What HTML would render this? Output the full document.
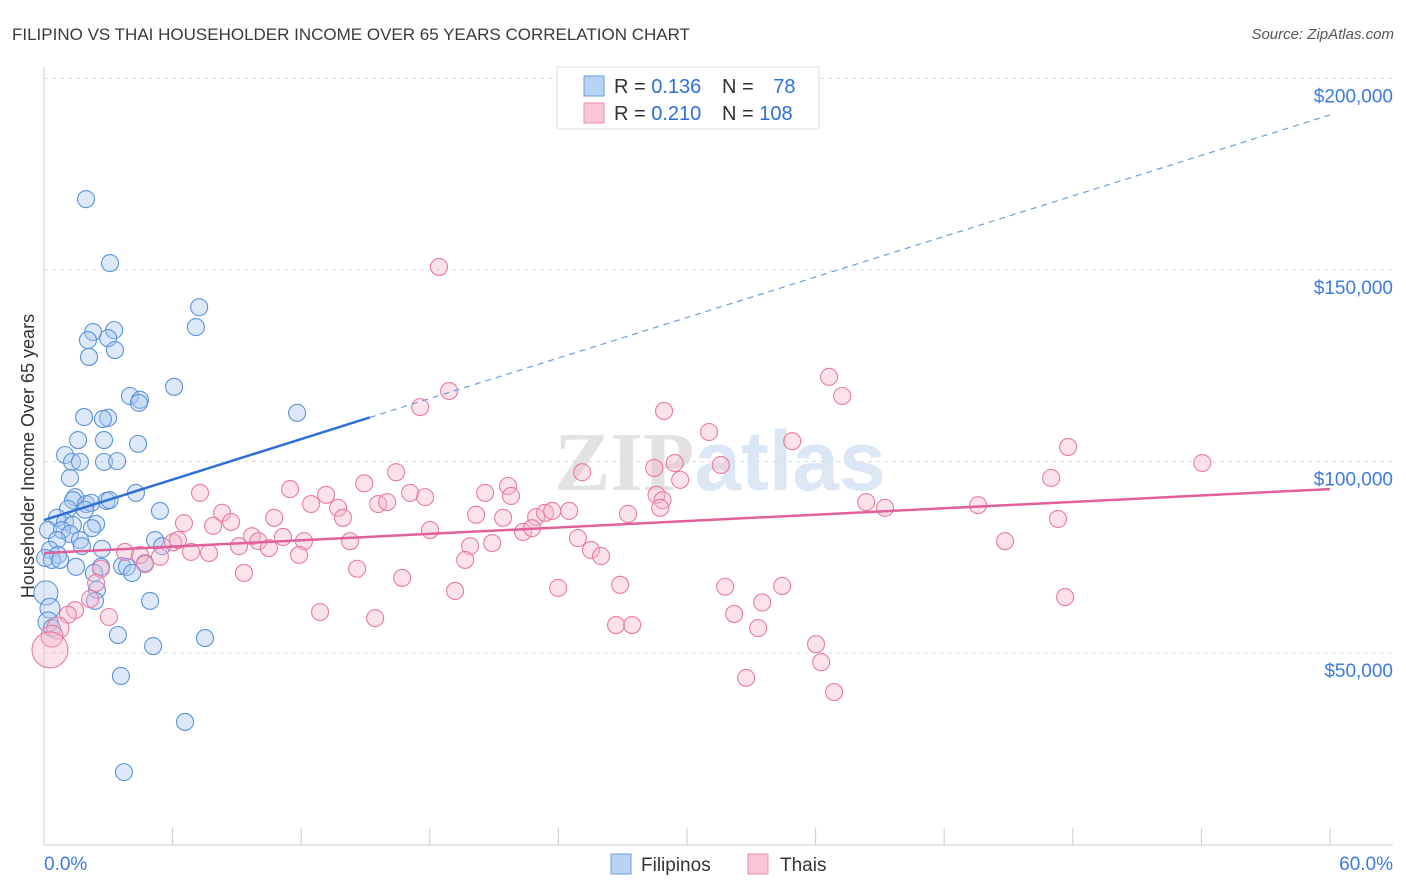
<!DOCTYPE html>
<html><head><meta charset="utf-8"><style>
body{margin:0;background:#fff;font-family:"Liberation Sans",sans-serif;}
#wrap{position:relative;width:1406px;height:892px;overflow:hidden;}
</style></head><body>
<div id="wrap">
<svg id="svg" width="1406" height="892">
<text x="12" y="40" font-size="17" fill="#3a3a3a">FILIPINO VS THAI HOUSEHOLDER INCOME OVER 65 YEARS CORRELATION CHART</text>
<text x="1394" y="39" font-size="15" fill="#555" text-anchor="end" font-style="italic">Source: ZipAtlas.com</text>
<text x="720" y="490" font-size="84" fill="#e4e4e4" text-anchor="middle" font-weight="bold"><tspan fill="#e2e2e2" font-family="Liberation Serif">ZIP</tspan><tspan fill="#dce7f5">atlas</tspan></text>
<text transform="translate(34,456) rotate(-90)" font-size="18" fill="#333" text-anchor="middle">Householder Income Over 65 years</text>
<g id="grid"></g><g id="pts"></g><g id="lines"></g>
<g>
<rect x="557" y="67" width="262" height="62" fill="#fff" stroke="#ddd"/>
<rect x="584" y="76" width="20" height="20" fill="#b8d3f4" stroke="#6a9de0"/>
<rect x="584" y="103" width="20" height="20" fill="#f8c6d5" stroke="#ec8fb0"/>
<text x="614" y="93" font-size="20" fill="#333">R = <tspan fill="#2d6fd6">0.136</tspan></text>
<text x="722" y="93" font-size="20" fill="#333">N = <tspan fill="#2d6fd6" dx="14">78</tspan></text>
<text x="614" y="120" font-size="20" fill="#333">R = <tspan fill="#2d6fd6">0.210</tspan></text>
<text x="722" y="120" font-size="20" fill="#333">N = <tspan fill="#2d6fd6">108</tspan></text>
</g>
<g>
<rect x="611" y="854" width="20" height="20" fill="#b8d3f4" stroke="#6a9de0"/>
<text x="641" y="871" font-size="19" fill="#333">Filipinos</text>
<rect x="748" y="854" width="20" height="20" fill="#f8c6d5" stroke="#ec8fb0"/>
<text x="780" y="871" font-size="19" fill="#333">Thais</text>
</g>
</svg>
</div>
<script>
const xTickVals=[0,6,12,18,24,30,36,42,48,54,60];
const yTickVals=[50000,100000,150000,200000];
const yTickLabels=["$50,000","$100,000","$150,000","$200,000"];
const xEndLabels=["0.0%","60.0%"];
const blueX=[1.96,3.08,7.24,7.09,2.29,3.27,2.05,2.99,3.31,2.10,6.07,4.01,4.48,4.43,11.81,1.87,2.99,2.75,4.39,1.59,2.80,0.98,1.31,1.68,2.80,3.41,1.21,4.29,1.45,1.35,1.96,2.21,2.92,3.06,1.12,1.91,5.41,0.61,0.98,1.35,2.43,2.24,0.19,0.84,1.21,0.61,1.68,5.18,1.77,2.71,0.28,0.65,0.05,0.37,0.75,5.51,1.49,2.66,3.64,3.87,4.11,2.33,4.71,2.47,0.09,0.28,2.38,4.95,0.19,0.37,3.45,7.51,5.09,3.59,6.58,3.73];
const blueY=[168.5,151.8,140.3,135.1,133.8,134.3,131.7,132.2,129.1,127.3,119.5,117.1,116.1,115.3,112.7,111.6,111.4,111.1,104.6,105.6,105.6,101.7,99.9,99.9,99.9,100.1,95.7,91.8,90.7,89.9,88.9,89.2,89.7,89.9,87.6,87.4,87.1,85.3,84.2,83.4,83.7,82.6,82.1,82.1,81.1,79.5,79.5,79.5,77.9,77.2,76.9,75.6,74.8,74.3,74.3,77.9,72.5,72.5,72.7,72.5,70.9,70.9,73.5,66.5,65.7,61.7,63.6,63.6,58.1,56.5,54.7,53.9,51.8,44.0,32.0,18.9];
const pinkX=[18.43,18.90,17.55,36.63,37.24,28.93,31.03,34.91,47.78,54.04,29.43,31.58,28.47,25.11,16.43,14.94,21.65,29.68,46.99,11.48,7.28,13.16,17.08,17.78,20.58,21.79,28.58,28.86,38.36,39.24,43.58,13.72,15.59,16.01,12.46,8.31,10.74,13.95,20.16,21.42,22.96,23.38,23.71,24.50,27.25,28.75,47.31,6.53,7.89,8.73,18.01,22.35,22.77,9.71,11.15,10.00,12.13,14.28,20.91,24.91,44.84,6.02,6.25,9.10,10.49,19.88,25.52,25.99,3.78,6.86,7.70,11.90,4.48,5.41,4.71,19.65,2.66,14.61,9.33,16.71,2.43,26.88,23.99,19.18,31.78,34.44,2.15,33.51,47.64,12.88,32.20,1.45,1.12,3.03,15.45,26.69,27.44,33.32,0.65,0.37,36.02,0.28,36.26,32.76,36.86];
const pinkY=[150.8,118.4,114.2,122.1,117.1,113.2,107.7,105.3,103.8,99.6,99.6,99.1,98.3,97.2,97.2,94.3,93.6,95.2,95.7,92.8,91.8,91.3,91.8,90.7,91.8,91.0,91.3,89.9,89.4,87.9,88.6,87.9,88.9,89.4,88.9,86.6,85.3,85.3,86.1,85.3,85.5,86.6,87.1,87.1,86.3,87.9,85.0,83.9,83.2,84.2,82.1,81.6,82.6,80.5,80.3,79.2,79.2,79.2,78.7,80.0,79.2,78.9,79.5,77.9,77.4,77.9,76.9,75.3,76.4,76.4,76.1,75.6,75.6,75.1,73.2,74.3,72.0,72.0,70.9,69.6,68.3,67.8,67.0,66.2,67.3,67.5,64.1,63.2,64.6,60.7,60.2,61.2,60.0,59.4,59.1,57.3,57.3,56.5,56.5,54.4,52.3,50.8,47.6,43.5,39.8];
const blueTrend=[84.7,190.5];
const blueSolidEnd=15.2;
const pinkTrend=[76.1,92.8];
const NS="http://www.w3.org/2000/svg";
const X=v=>44+v*(1286/60);
const Y=v=>844.5-v*(191.5/50000);
function mk(tag,attrs,parent){const e=document.createElementNS(NS,tag);for(const k in attrs)e.setAttribute(k,attrs[k]);parent.appendChild(e);return e;}
const grid=document.getElementById('grid');
yTickVals.forEach((v,i)=>{
 const l=mk('line',{x1:44,x2:1393,y1:Y(v),y2:Y(v),stroke:'#ddd','stroke-dasharray':'4,4'},grid);
 
 
 const t=mk('text',{x:1393,y:Y(v)+24,'font-size':19,fill:'#3a7be0','text-anchor':'end'},grid);
 t.textContent=yTickLabels[i];
 
 
});
const ax=mk('line',{x1:44,x2:44,y1:67,y2:845,stroke:'#ccc'},grid);


const bx=mk('line',{x1:44,x2:1393,y1:845,y2:845,stroke:'#ccc'},grid);


xTickVals.forEach(v=>{
 const t=mk('line',{x1:X(v),x2:X(v),y1:828,y2:845,stroke:'#ccc'},grid);
 
 
});
[[0,'start',44],[60,'end',1393]].forEach((a,i)=>{
 const t=mk('text',{x:a[2],y:870,'font-size':19,fill:'#3a7be0','text-anchor':a[1]},grid);
 t.textContent=xEndLabels[i];
 
 
});
const pts=document.getElementById('pts');
function dots(xs,ys,fill,stroke,name,sizeFn){
 xs.forEach((x,i)=>{
  const r=sizeFn(x,ys[i]);
  const c=mk('circle',{cx:X(x),cy:Y(ys[i]*1000),r:r,fill:fill,'fill-opacity':0.4,stroke:stroke,'stroke-width':1.1},pts);
  
  
 });
}
dots(blueX,blueY,'#a9c9f0','#5b93db','point-filipinos',(x,y)=>x<0.15&&y<70?12:(x<0.3&&y<63?10:8.5));
dots(pinkX,pinkY,'#f6b7cb','#e87ba0','point-thais',(x,y)=>x<0.3&&y<52?18:(x<0.7&&y<57?11:8.5));
const lines=document.getElementById('lines');
const bAt=x=>blueTrend[0]+(blueTrend[1]-blueTrend[0])*x/60;
const bs=mk('line',{x1:X(0),y1:Y(bAt(0)*1000),x2:X(blueSolidEnd),y2:Y(bAt(blueSolidEnd)*1000),stroke:'#2f6fd6','stroke-width':2.5},lines);


const bd=mk('line',{x1:X(blueSolidEnd),y1:Y(bAt(blueSolidEnd)*1000),x2:X(60),y2:Y(bAt(60)*1000),stroke:'#6a9de0','stroke-width':1.2,'stroke-dasharray':'6,5'},lines);


const pl=mk('line',{x1:X(0),y1:Y(pinkTrend[0]*1000),x2:X(60),y2:Y(pinkTrend[1]*1000),stroke:'#e0609a','stroke-width':2.5},lines);


</script>
</body></html>
